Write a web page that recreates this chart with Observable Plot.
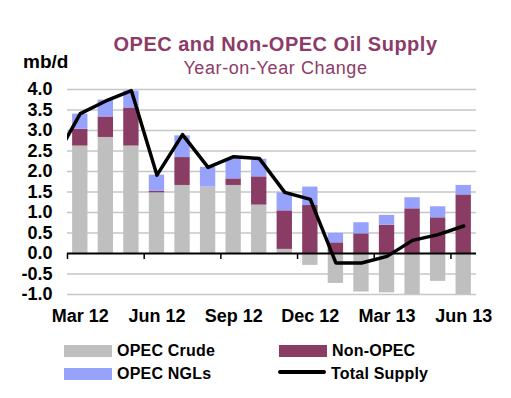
<!DOCTYPE html>
<html>
<head>
<meta charset="utf-8">
<script src="https://cdn.jsdelivr.net/npm/d3@7"></script>
<script src="https://cdn.jsdelivr.net/npm/@observablehq/plot@0.6"></script>
<style>
  html, body { margin: 0; padding: 0; background: #fff; }
  #wrap { position: relative; width: 511px; height: 398px; overflow: hidden; font-family: "Liberation Sans", Arial, sans-serif; }
  #wrap svg { position: absolute; left: 0; top: 0; }
  .t { position: absolute; white-space: nowrap; line-height: 1; }
  .title { left: 0; width: 551px; text-align: center; top: 34px; font-size: 20px; font-weight: bold; color: #8c3c66; letter-spacing: 0.5px; }
  .subtitle { left: 0; width: 551px; text-align: center; top: 59px; font-size: 18px; color: #8c3c66; letter-spacing: 0.6px; }
  .unit { left: 23px; top: 52px; font-size: 19px; font-weight: bold; color: #000; }
  .lg { font-size: 16px; font-weight: bold; color: #000; letter-spacing: 0.2px; }
  .sw { position: absolute; }
</style>
</head>
<body>
<div id="wrap">
  <div class="t title">OPEC and Non-OPEC Oil Supply</div>
  <div class="t subtitle">Year-on-Year Change</div>
  <div class="t unit">mb/d</div>
  <div id="legend"></div>
</div>
<script>
// ---- data ----
const months = ["Mar 12","Apr 12","May 12","Jun 12","Jul 12","Aug 12","Sep 12","Oct 12","Nov 12","Dec 12",
                "Jan 13","Feb 13","Mar 13","Apr 13","May 13","Jun 13"];
const opecCrude = [2.62, 2.83, 2.62, 1.48, 1.66, 1.62, 1.66, 1.18, 0.10, -0.29, -0.73, -0.94, -0.96, -1.04, -0.68, -1.02];
const nonOpec   = [0.41, 0.50, 0.93, 0.04, 0.68, 0.00, 0.16, 0.69, 0.94, 1.17, 0.26, 0.48, 0.69, 1.09, 0.87, 1.43];
const opecNgls  = [0.37, 0.41, 0.41, 0.39, 0.53, 0.48, 0.48, 0.43, 0.44, 0.45, 0.23, 0.27, 0.24, 0.27, 0.27, 0.23];
const totalSupply = [3.41, 3.72, 3.97, 1.91, 2.90, 2.10, 2.36, 2.32, 1.49, 1.32, -0.23, -0.23, -0.07, 0.32, 0.46, 0.67];
const totalSupplyPrior = 2.3; // Feb 12, outside the plotted window
const tickMonths = [0, 3, 6, 9, 12, 15];
const yTicks = [-1, -0.5, 0, 0.5, 1, 1.5, 2, 2.5, 3, 3.5, 4];
const seriesNames = ["OPEC Crude", "Non-OPEC", "OPEC NGLs"];
const seriesColors = ["#bfbfbf", "#8a3d64", "#97a2fd"];
const lineName = "Total Supply";

// ---- tables ----
const rows = [];
months.forEach((m, i) => {
  rows.push({i, series: seriesNames[0], value: opecCrude[i]});
  rows.push({i, series: seriesNames[1], value: nonOpec[i]});
  rows.push({i, series: seriesNames[2], value: opecNgls[i]});
});
const linePts = [{i: -1, v: totalSupplyPrior}].concat(totalSupply.map((v, i) => ({i, v})));

const font = "Liberation Sans, Arial, sans-serif";
const chart = Plot.plot({
  width: 511,
  height: 330,
  marginTop: 89,
  marginBottom: 36,
  marginLeft: 67,
  marginRight: 35,
  style: {fontFamily: font, fontSize: "18px", fontWeight: "bold", color: "#000", background: "transparent"},
  x: {type: "linear", domain: [-0.5, months.length - 0.5]},
  y: {domain: [-1, 4]},
  color: {domain: seriesNames, range: seriesColors},
  marks: [
    Plot.ruleY(yTicks.filter(v => v !== 0), {stroke: "#c6c6c6", strokeWidth: 1.5}),
    Plot.rectY(rows, {x1: d => d.i - 0.3, x2: d => d.i + 0.3, y: "value", fill: "series", clip: true}),
    Plot.ruleY([0], {stroke: "#000", strokeWidth: 2}),
    Plot.ruleX(tickMonths.map(i => i - 0.5), {y1: 0, y2: 0, insetBottom: -6, stroke: "#000", strokeWidth: 1.5}),
    Plot.line(linePts, {x: "i", y: "v", stroke: "#000", strokeWidth: 3.5, clip: true}),
    Plot.axisY(yTicks, {tickSize: 0, tickPadding: 15, tickFormat: d => d.toFixed(1), fontSize: 18, fontWeight: "bold", label: null}),
    Plot.axisX(tickMonths, {tickSize: 0, tickPadding: 15, tickFormat: i => months[i], fontSize: 18, fontWeight: "bold", label: null})
  ]
});
document.getElementById("wrap").appendChild(chart);

// ---- legend ----
const legend = document.getElementById("legend");
const items = [
  {name: seriesNames[0], color: seriesColors[0], type: "box", x: 64, y: 345},
  {name: seriesNames[1], color: seriesColors[1], type: "box", x: 279, y: 345},
  {name: seriesNames[2], color: seriesColors[2], type: "box", x: 64, y: 368},
  {name: lineName, color: "#000", type: "line", x: 278, y: 368}
];
items.forEach(it => {
  const s = document.createElement("div");
  s.className = "sw";
  s.style.left = it.x + "px";
  s.style.width = "48px";
  s.style.background = it.color;
  if (it.type === "box") { s.style.top = it.y + "px"; s.style.height = "12px"; }
  else { s.style.top = (it.y + 2) + "px"; s.style.height = "3.5px"; s.style.borderRadius = "2px"; }
  legend.appendChild(s);
  const t = document.createElement("div");
  t.className = "t lg";
  t.style.left = (it.x + 53) + "px";
  t.style.top = (it.y - 2) + "px";
  t.textContent = it.name;
  legend.appendChild(t);
});
</script>
</body>
</html>
